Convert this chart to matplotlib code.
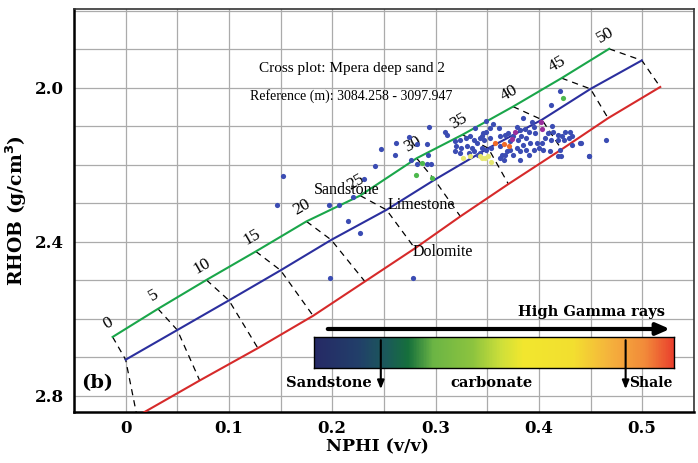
import numpy as np
import matplotlib
matplotlib.use("Agg")
import matplotlib.pyplot as plt
from matplotlib.colors import LinearSegmentedColormap

# ---------------- data ----------------
porosity = [0, 5, 10, 15, 20, 25, 30, 35, 40, 45, 50]

ss_nphi = [-0.0126, 0.0313, 0.0782, 0.126, 0.175, 0.227, 0.2817, 0.326, 0.375, 0.422, 0.468]
ss_rhob = [2.647, 2.574, 2.499, 2.425, 2.347, 2.280, 2.183, 2.122, 2.049, 1.975, 1.899]

ls_nphi = [0.0, 0.050, 0.100, 0.150, 0.199, 0.2525, 0.299, 0.351, 0.403, 0.450, 0.4997]
ls_rhob = [2.706, 2.629, 2.552, 2.474, 2.395, 2.317, 2.239, 2.157, 2.083, 2.003, 1.929]

dl_nphi = [0.011, 0.0717, 0.128, 0.1815, 0.2316, 0.280, 0.324, 0.3705, 0.422, 0.467, 0.5175]
dl_rhob = [2.853, 2.760, 2.676, 2.592, 2.503, 2.417, 2.334, 2.250, 2.160, 2.079, 1.998]

blue_nphi = [0.420, 0.412, 0.349, 0.385, 0.393, 0.356, 0.361, 0.353, 0.349, 0.346, 0.345, 0.347, 0.353,
             0.362, 0.367, 0.370, 0.379, 0.382, 0.387, 0.390, 0.395, 0.396, 0.383, 0.388, 0.391, 0.398,
             0.403, 0.406, 0.409, 0.412, 0.414, 0.419, 0.422, 0.425, 0.430, 0.429, 0.424, 0.419, 0.432,
             0.440, 0.420, 0.419, 0.411, 0.404, 0.400, 0.395, 0.388, 0.390, 0.382, 0.382, 0.375, 0.369,
             0.364, 0.362, 0.366, 0.367, 0.372, 0.379, 0.385, 0.380, 0.375, 0.372, 0.362, 0.354, 0.349,
             0.345, 0.343, 0.449, 0.465, 0.338, 0.294, 0.311, 0.309, 0.274, 0.282, 0.292, 0.261,
             0.247, 0.293, 0.276, 0.282, 0.292, 0.296, 0.241, 0.220, 0.227, 0.215, 0.319, 0.324, 0.329,
             0.333, 0.320, 0.325, 0.330, 0.335, 0.340, 0.319, 0.324, 0.332, 0.337, 0.341, 0.337, 0.343,
             0.152, 0.147, 0.197, 0.207, 0.231, 0.198, 0.278, 0.262, 0.441, 0.413, 0.421, 0.449, 0.432]
blue_rhob = [2.008, 2.046, 2.086, 2.079, 2.089, 2.094, 2.105, 2.105, 2.114, 2.118, 2.126, 2.135, 2.131,
             2.126, 2.122, 2.118, 2.101, 2.109, 2.107, 2.114, 2.101, 2.118, 2.126, 2.131, 2.144, 2.144,
             2.144, 2.131, 2.118, 2.135, 2.114, 2.122, 2.126, 2.114, 2.114, 2.131, 2.135, 2.135, 2.126,
             2.144, 2.161, 2.178, 2.165, 2.161, 2.157, 2.161, 2.161, 2.174, 2.165, 2.187, 2.174, 2.165,
             2.174, 2.183, 2.187, 2.174, 2.161, 2.157, 2.148, 2.135, 2.126, 2.139, 2.152, 2.157, 2.161,
             2.157, 2.170, 2.178, 2.135, 2.105, 2.103, 2.122, 2.116, 2.129, 2.145, 2.146, 2.174,
             2.159, 2.174, 2.187, 2.198, 2.197, 2.197, 2.202, 2.284, 2.378, 2.347, 2.139, 2.135, 2.131,
             2.126, 2.152, 2.157, 2.152, 2.157, 2.144, 2.165, 2.170, 2.170, 2.165, 2.174, 2.135, 2.131,
             2.230, 2.304, 2.304, 2.304, 2.236, 2.494, 2.494, 2.144, 2.144, 2.100, 2.177, 2.177, 2.148]

green_nphi = [0.423, 0.287, 0.281, 0.297]
green_rhob = [2.027, 2.196, 2.226, 2.233]
yellow_nphi = [0.345, 0.348, 0.351, 0.354, 0.327, 0.333, 0.343]
yellow_rhob = [2.183, 2.183, 2.178, 2.194, 2.183, 2.177, 2.178]
orange_nphi = [0.358, 0.366, 0.371]
orange_rhob = [2.144, 2.145, 2.150]
purple_nphi = [0.402, 0.403, 0.377, 0.374]
purple_rhob = [2.088, 2.107, 2.114, 2.133]

x_ticks = [0, 0.1, 0.2, 0.3, 0.4, 0.5]
x_ticklabels = ["0", "0.1", "0.2", "0.3", "0.4", "0.5"]
y_ticks = [2.0, 2.4, 2.8]
y_ticklabels = ["2.0", "2.4", "2.8"]

gr_stops = [0.0, 0.12, 0.2, 0.26, 0.33, 0.44, 0.52, 0.58, 0.72, 0.82, 0.92, 1.0]
gr_colors = ["#262a66", "#223f6a", "#1b5a5a", "#16703c", "#6cb545", "#8dc43f",
             "#cfe03a", "#f2e72e", "#f3df30", "#f5b33d", "#f28a3a", "#ea3f2d"]

# ---------------- figure ----------------
fig = plt.figure(figsize=(6.98, 4.63), dpi=100)
ax = fig.add_axes([0.106, 0.110, 0.888, 0.871])

ax.set_xlim(-0.05, 0.55)
ax.set_ylim(2.842, 1.795)

ax.set_xticks(np.arange(-0.05, 0.551, 0.05), minor=True)
ax.set_yticks(np.arange(1.8, 2.85, 0.1), minor=True)
ax.set_xticks(x_ticks)
ax.set_xticklabels(x_ticklabels)
ax.set_yticks(y_ticks)
ax.set_yticklabels(y_ticklabels)
ax.grid(True, which="both", color="#ababab", lw=0.9)
ax.set_axisbelow(True)
ax.tick_params(which="both", length=0)
ax.tick_params(axis="x", pad=6)
ax.tick_params(axis="y", pad=7)
for lab in ax.get_xticklabels() + ax.get_yticklabels():
    lab.set_fontfamily("DejaVu Serif")
    lab.set_fontweight("bold")
    lab.set_fontsize(12)

for side in ["left", "bottom"]:
    ax.spines[side].set_linewidth(1.8)
    ax.spines[side].set_color("black")
for side in ["top", "right"]:
    ax.spines[side].set_linewidth(1.2)
    ax.spines[side].set_color("#333333")

ax.set_xlabel("NPHI (v/v)", fontfamily="DejaVu Serif", fontweight="bold", fontsize=12.5)
ax.set_ylabel("RHOB (g/cm$^{\\mathbf{3}}$)", fontfamily="DejaVu Serif", fontweight="bold",
              fontsize=13.5)
ax.xaxis.set_label_coords(0.49, -0.066)
ax.yaxis.set_label_coords(-0.073, 0.5)

# lithology lines
ax.plot(ss_nphi, ss_rhob, color="#1aa64a", lw=1.5, zorder=3)
ax.plot(ls_nphi, ls_rhob, color="#2b2f9e", lw=1.5, zorder=3)
ax.plot(dl_nphi, dl_rhob, color="#d62a2a", lw=1.5, zorder=3)

# equal porosity dashed connectors
for i, p in enumerate(porosity):
    ax.plot([ss_nphi[i], ls_nphi[i], dl_nphi[i]], [ss_rhob[i], ls_rhob[i], dl_rhob[i]],
            color="black", lw=0.9, ls=(0, (5, 4)), zorder=2)
    ax.annotate(str(p), (ss_nphi[i], ss_rhob[i]), xytext=(-3, 10), textcoords="offset points",
                rotation=30, ha="center", va="center", fontsize=12.5,
                fontfamily="Liberation Serif", zorder=4)

# scatter data
ms = 14
ax.scatter(blue_nphi, blue_rhob, s=ms, color="#3b4cb3", zorder=5, linewidths=0)
ax.scatter(green_nphi, green_rhob, s=ms, color="#4cb84c", zorder=5, linewidths=0)
ax.scatter(yellow_nphi, yellow_rhob, s=ms, color="#e6e870", zorder=5, linewidths=0)
ax.scatter(orange_nphi, orange_rhob, s=ms, color="#f06a28", zorder=5, linewidths=0)
ax.scatter(purple_nphi, purple_rhob, s=ms, color="#9b2d9b", zorder=5, linewidths=0)

# text annotations
ax.text(0.129, 1.951, "Cross plot: Mpera deep sand 2", fontfamily="Liberation Serif",
        fontsize=11, va="center", ha="left")
ax.text(0.120, 2.021, "Reference (m): 3084.258 - 3097.947", fontfamily="Liberation Serif",
        fontsize=10, va="center", ha="left")
ax.text(0.182, 2.265, "Sandstone", fontfamily="Liberation Serif", fontsize=11.5, va="center", zorder=6)
ax.text(0.254, 2.304, "Limestone", fontfamily="Liberation Serif", fontsize=11.5, va="center", zorder=6)
ax.text(0.278, 2.426, "Dolomite", fontfamily="Liberation Serif", fontsize=11.5, va="center", zorder=6)

# gamma ray colour bar
cmap = LinearSegmentedColormap.from_list("gr", list(zip(gr_stops, gr_colors)))
cax = ax.inset_axes([0.387, 0.110, 0.581, 0.075])
cax.imshow(np.linspace(0, 1, 400)[None, :], aspect="auto", cmap=cmap, extent=[0, 1, 0, 1])
cax.set_xticks([])
cax.set_yticks([])
for s in cax.spines.values():
    s.set_linewidth(1.0)
    s.set_color("black")
cax.set_zorder(7)

ax.annotate("", xy=(0.966, 0.206), xytext=(0.405, 0.206), xycoords="axes fraction",
            arrowprops=dict(arrowstyle="-|>,head_length=0.8,head_width=0.35", lw=3, color="black"),
            zorder=8)
for xa in [0.495, 0.890]:
    ax.annotate("", xy=(xa, 0.050), xytext=(xa, 0.185), xycoords="axes fraction",
                arrowprops=dict(arrowstyle="-|>,head_length=0.5,head_width=0.2", lw=1.5, color="black"),
                zorder=9)

ax.text(0.953, 0.248, "High Gamma rays", transform=ax.transAxes, ha="right", va="center",
        fontfamily="DejaVu Serif", fontweight="bold", fontsize=10.5)
ax.text(0.342, 0.072, "Sandstone", transform=ax.transAxes, ha="left", va="center",
        fontfamily="DejaVu Serif", fontweight="bold", fontsize=10.5)
ax.text(0.674, 0.072, "carbonate", transform=ax.transAxes, ha="center", va="center",
        fontfamily="DejaVu Serif", fontweight="bold", fontsize=10.5)
ax.text(0.895, 0.072, "Shale", transform=ax.transAxes, ha="left", va="center",
        fontfamily="DejaVu Serif", fontweight="bold", fontsize=10)
ax.text(0.037, 0.072, "(b)", transform=ax.transAxes, ha="center", va="center",
        fontfamily="DejaVu Serif", fontweight="bold", fontsize=14)

fig.savefig("out.png", dpi=100)
